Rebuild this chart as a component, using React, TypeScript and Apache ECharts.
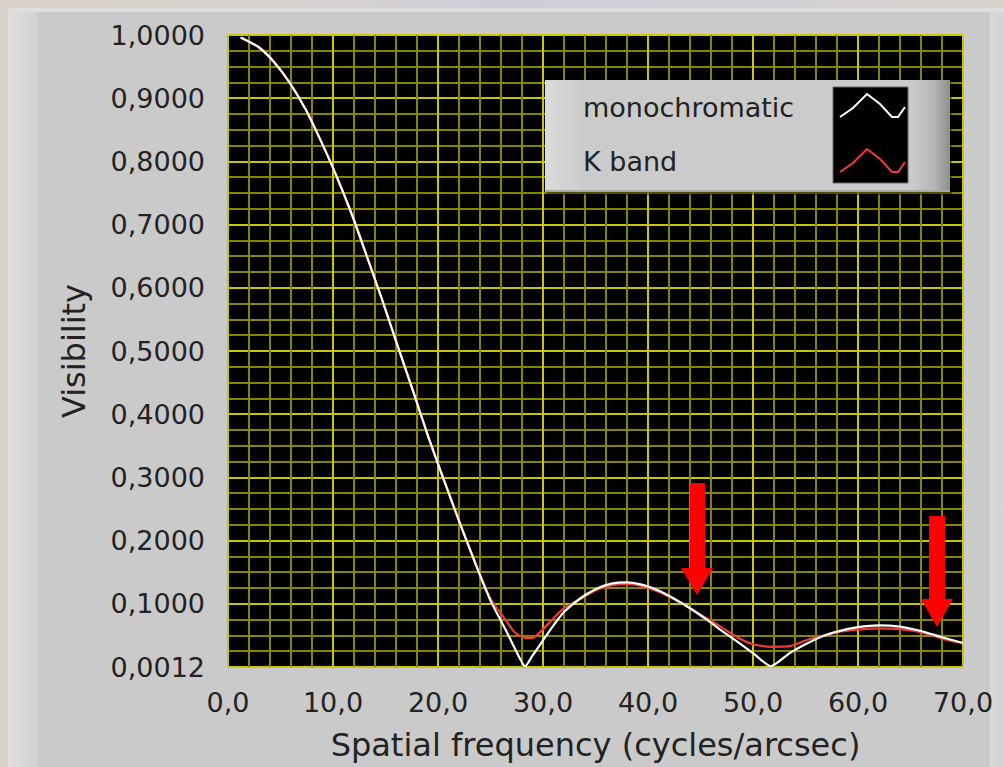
import React, { useEffect, useRef } from "react";
import * as echarts from "echarts";

// Spatial frequency (cycles/arcsec)
const freq = [1.2, 2.9, 4.4, 5.9, 7.4, 8.8, 10.3, 11.8, 13.2, 14.7, 16.2, 17.7, 19.1, 20.6, 22.1, 23.6, 25.0, 26.5, 27.3, 28.3, 29.0, 30.0, 31.0, 32.0, 33.5, 35.0, 36.5, 38.0, 39.5, 41.0, 42.5, 44.0, 45.5, 46.8, 48.5, 50.0, 51.7, 53.5, 55.0, 56.5, 58.0, 60.0, 62.0, 64.0, 66.0, 68.0, 70.0];
// Visibility, monochromatic
const mono = [0.996, 0.981, 0.957, 0.924, 0.882, 0.834, 0.778, 0.716, 0.651, 0.580, 0.506, 0.433, 0.363, 0.294, 0.227, 0.162, 0.105, 0.057, 0.030, 0.0012, 0.018, 0.042, 0.066, 0.087, 0.108, 0.123, 0.132, 0.134, 0.130, 0.121, 0.108, 0.093, 0.076, 0.060, 0.040, 0.022, 0.0012, 0.022, 0.036, 0.048, 0.056, 0.063, 0.066, 0.064, 0.057, 0.047, 0.038];
// Visibility, K band
const kband = [0.996, 0.981, 0.957, 0.924, 0.882, 0.834, 0.778, 0.716, 0.651, 0.580, 0.506, 0.433, 0.363, 0.294, 0.227, 0.163, 0.108, 0.073, 0.055, 0.046, 0.046, 0.060, 0.077, 0.093, 0.107, 0.121, 0.129, 0.131, 0.128, 0.119, 0.107, 0.093, 0.078, 0.065, 0.047, 0.036, 0.032, 0.033, 0.042, 0.049, 0.055, 0.059, 0.061, 0.060, 0.055, 0.045, 0.038];

const xTickLabels = ["0,0", "10,0", "20,0", "30,0", "40,0", "50,0", "60,0", "70,0"];
const yTickLabels = ["0,0012", "0,1000", "0,2000", "0,3000", "0,4000", "0,5000", "0,6000", "0,7000", "0,8000", "0,9000", "1,0000"];
const seriesNames = ["monochromatic", "K band"];

const FONT = "DejaVu Sans";

export default function App() {
  const ref = useRef<HTMLDivElement>(null);
  useEffect(() => {
    if (!ref.current) return;
    const chart = echarts.init(ref.current, undefined, { renderer: "svg" });
    const grad = (stops: [number, string][], x2 = 1, y2 = 0) =>
      new echarts.graphic.LinearGradient(0, 0, x2, y2, stops.map(([offset, color]) => ({ offset, color })));
    const zig = (x0: number, y0: number) =>
      [[0, 23], [13, 14], [27, 0], [40, 10], [52, 23], [58, 23], [65, 13]].map(([dx, dy]) => [x0 + dx, y0 + dy]);
    const TOP = 200;

    chart.setOption({
      animation: false,
      backgroundColor: "transparent",
      textStyle: { fontFamily: FONT },
      grid: {
        left: 228,
        right: 41,
        top: 35,
        bottom: 100,
        show: true,
        backgroundColor: "#000000",
        borderColor: "#4a4a4a",
        borderWidth: 1,
      },
      xAxis: {
        type: "value",
        min: 0,
        max: 70,
        interval: 10,
        name: "Spatial frequency (cycles/arcsec)",
        nameLocation: "middle",
        nameGap: 62,
        nameTextStyle: { fontFamily: FONT, fontSize: 32, color: "#222222" },
        axisLine: { show: false },
        axisTick: { show: false },
        minorTick: { show: false, splitNumber: 5 },
        axisLabel: {
          margin: 22,
          fontFamily: FONT,
          fontSize: 27,
          color: "#222222",
          formatter: (v: number) => xTickLabels[Math.round(v / 10)] ?? "",
        },
        splitLine: { show: true, lineStyle: { color: "#c8c800", width: 2 } },
        minorSplitLine: { show: true, lineStyle: { color: "#858500", width: 2 } },
      },
      yAxis: {
        type: "value",
        min: 0,
        max: 1,
        interval: 0.1,
        name: "Visibility",
        nameLocation: "middle",
        nameGap: 138,
        nameRotate: 90,
        nameTextStyle: { fontFamily: FONT, fontSize: 32, color: "#222222" },
        axisLine: { show: false },
        axisTick: { show: false },
        minorTick: { show: false, splitNumber: 4 },
        axisLabel: {
          margin: 23,
          fontFamily: FONT,
          fontSize: 27,
          color: "#222222",
          formatter: (v: number) => yTickLabels[Math.round(v * 10)] ?? "",
        },
        splitLine: { show: true, lineStyle: { color: "#c8c800", width: 2 } },
        minorSplitLine: { show: true, lineStyle: { color: "#858500", width: 2 } },
      },
      legend: { show: false },
      series: [
        {
          name: seriesNames[1],
          type: "line",
          data: freq.map((f, i) => [f, kband[i]]),
          symbol: "none",
          smooth: 0.2,
          lineStyle: { color: "#f23a3a", width: 2.2 },
          itemStyle: { color: "#f23a3a" },
          z: 3,
        },
        {
          name: seriesNames[0],
          type: "line",
          data: freq.map((f, i) => [f, mono[i]]),
          symbol: "none",
          smooth: 0.2,
          lineStyle: { color: "#ffffff", width: 2.2 },
          itemStyle: { color: "#ffffff" },
          z: 4,
        },
      ],
      graphic: [
        // photo-like outer edges
        { type: "rect", shape: { x: 0, y: 0, width: 1004, height: 8 }, style: { fill: grad([[0, "#d9d1c8"], [0.3, "#d6d2d0"], [0.5, "#cfcdd8"], [0.75, "#d2d0d6"], [1, "#d8d2cc"]]) }, z: -10, silent: true },
        { type: "rect", shape: { x: 0, y: 0, width: 8, height: 767 }, style: { fill: "#d8d2cc" }, z: -10, silent: true },
        { type: "rect", shape: { x: 8, y: 8, width: 996, height: 4 }, style: { fill: "#dedede" }, z: -9, silent: true },
        { type: "rect", shape: { x: 8, y: 12, width: 29, height: 755 }, style: { fill: grad([[0, "#dedede"], [1, "#d2d2d2"]]) }, z: -9, silent: true },
        { type: "rect", shape: { x: 987, y: 12, width: 17, height: 755 }, style: { fill: grad([[0, "#c0c0c0"], [0.2, "#d8d8d8"], [1, "#d4d4d4"]]) }, z: -9, silent: true },
        // legend box
        { type: "rect", z: TOP, shape: { x: 547, y: 83, width: 405, height: 112 }, style: { fill: "rgba(0,0,0,0.4)" } },
        { type: "rect", z: TOP + 1, shape: { x: 545, y: 80, width: 405, height: 112 }, style: { fill: "#cbcbcb" } },
        { type: "rect", z: TOP + 2, shape: { x: 545, y: 80, width: 36, height: 112 }, style: { fill: grad([[0, "#dadada"], [1, "#cdcdcd"]]) } },
        { type: "rect", z: TOP + 2, shape: { x: 912, y: 80, width: 38, height: 112 }, style: { fill: grad([[0, "#cccccc"], [0.6, "#b4b4b4"], [1, "#8e8e8e"]]) } },
        { type: "rect", z: TOP + 3, shape: { x: 545, y: 190, width: 405, height: 2 }, style: { fill: "#a8a8a8" } },
        { type: "rect", z: TOP + 3, shape: { x: 833, y: 87, width: 75, height: 96 }, style: { fill: "#000000", stroke: "#6a6a6a", lineWidth: 1 } },
        { type: "polyline", z: TOP + 4, shape: { points: zig(840, 94) }, style: { stroke: "#ffffff", lineWidth: 2, fill: null } },
        { type: "polyline", z: TOP + 4, shape: { points: zig(840, 149) }, style: { stroke: "#f23a3a", lineWidth: 2, fill: null } },
        { type: "text", z: TOP + 4, x: 583, y: 107, style: { text: seriesNames[0], fontFamily: FONT, fontSize: 27, fill: "#222222", verticalAlign: "middle", align: "left" } },
        { type: "text", z: TOP + 4, x: 583, y: 161, style: { text: seriesNames[1], fontFamily: FONT, fontSize: 27, fill: "#222222", verticalAlign: "middle", align: "left" } },
        // red arrows
        { type: "polygon", z: TOP, shape: { points: [[690, 483], [705, 483], [705, 568], [713, 568], [697, 595], [681, 568], [690, 568]] }, style: { fill: "#ff0000" } },
        { type: "polygon", z: TOP, shape: { points: [[929, 516], [945, 516], [945, 599], [953, 599], [937, 627], [921, 599], [929, 599]] }, style: { fill: "#ff0000" } },
      ],
    });
    return () => chart.dispose();
  }, []);

  return (
    <div style={{ position: "fixed", left: 0, top: 0, width: 1004, height: 767, background: "#cacaca" }}>
      <div ref={ref} style={{ width: 1004, height: 767 }} />
    </div>
  );
}
